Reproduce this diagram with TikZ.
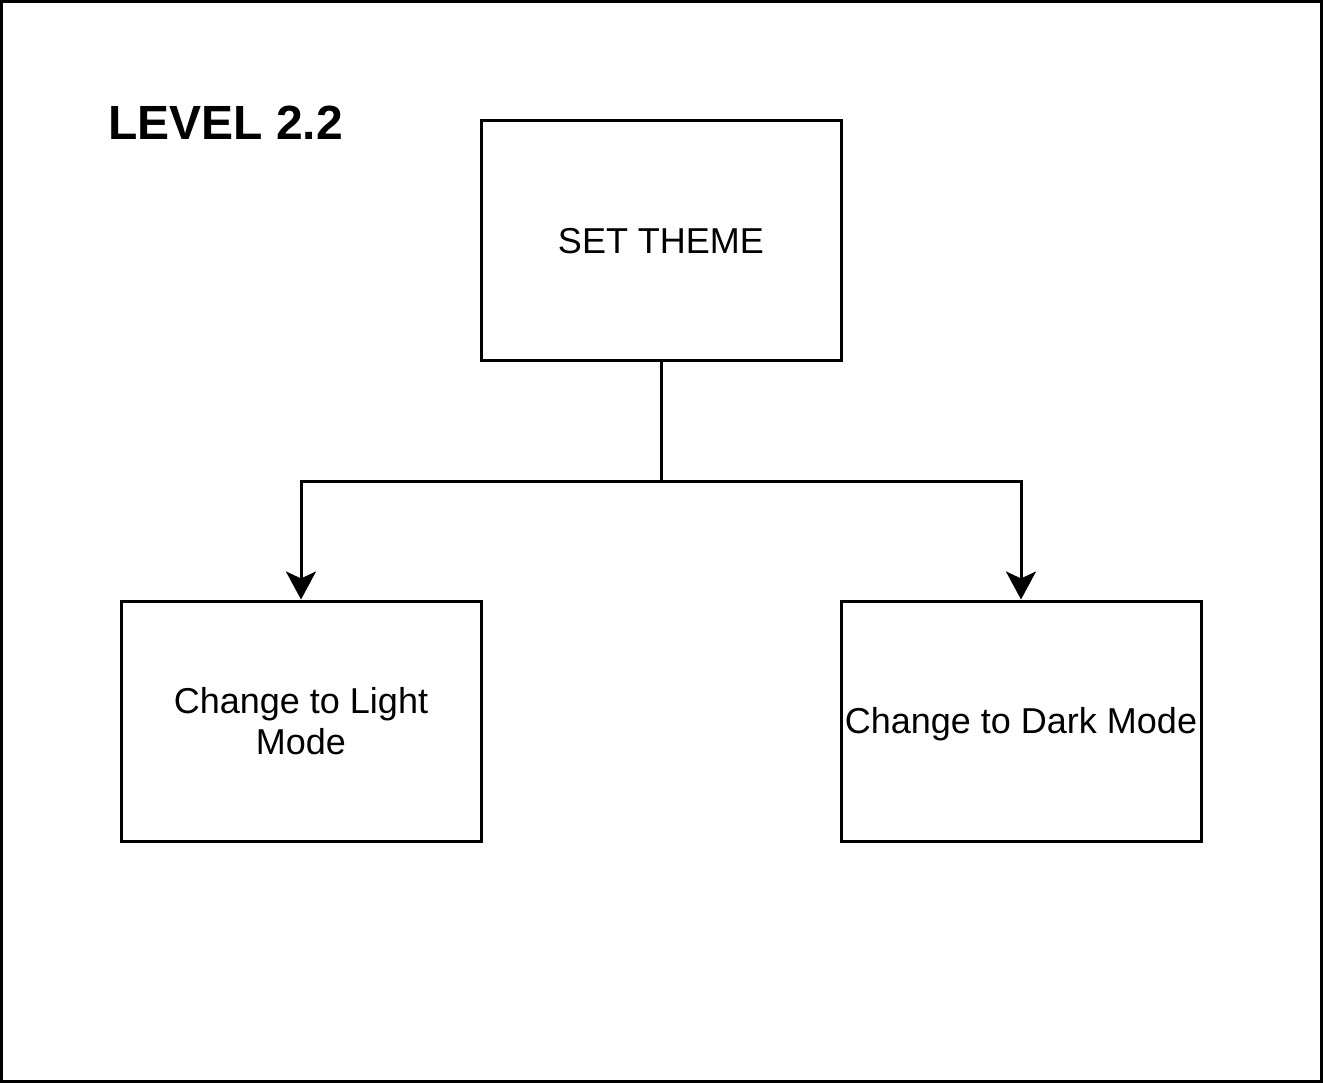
\documentclass[tikz,border=0pt]{standalone}
\usepackage{fontspec}
\setmainfont{Liberation Sans}
\usetikzlibrary{arrows.meta}
\begin{document}
\begin{tikzpicture}[x=1pt,y=-1pt,
  box/.style={draw=black,line width=3pt,minimum width=360pt,minimum height=240pt,inner sep=0pt,align=center,font=\fontsize{36}{41}\selectfont},
  conn/.style={draw=black,line width=3pt},
  arr/.style={conn,-{Stealth[length=28pt,width=30pt,inset=7pt,line join=miter]}}]
\useasboundingbox (0,0) rectangle (1323,1083);
\draw[line width=3pt] (1.5,1.5) rectangle (1321.5,1081.5);
\node[anchor=base west,inner sep=0pt,font=\fontsize{48}{58}\selectfont\bfseries] (title) at (108,140) {LEVEL 2.2};
\node[box] (theme) at (661,241) {SET THEME};
\node[box] (light) at (301,721) {Change to Light\\Mode};
\node[box,text depth=2pt] (dark) at (1021,721) {Change to Dark Mode};
\coordinate (mid) at (661,481);
\draw[conn] (theme.south) -- (mid);
\draw[arr] (mid) -| (light.north);
\draw[arr] (mid) -| (dark.north);
\end{tikzpicture}
\end{document}
